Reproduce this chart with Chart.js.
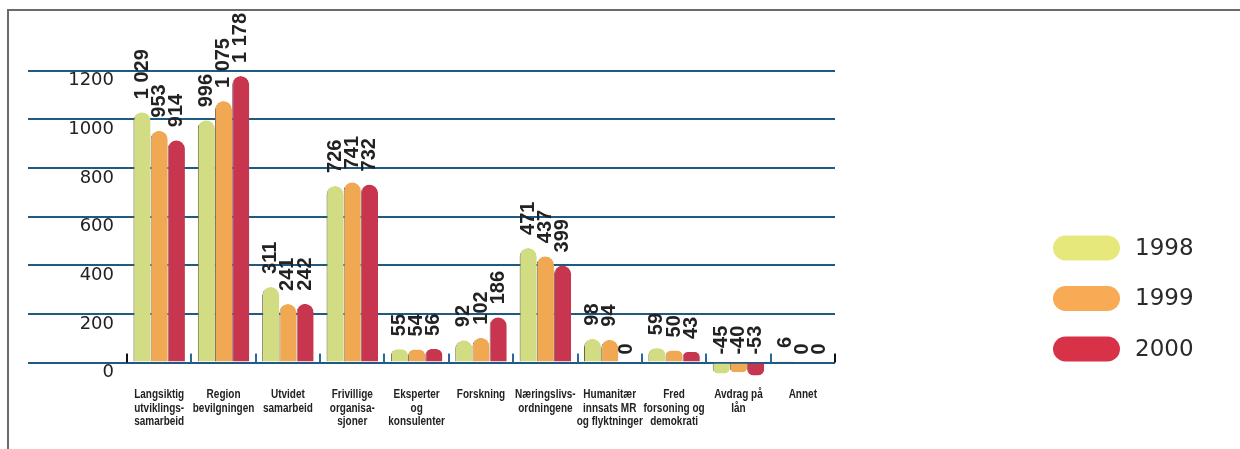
<!DOCTYPE html>
<html>
<head>
<meta charset="utf-8">
<script src="https://cdn.jsdelivr.net/npm/chart.js@4/dist/chart.umd.min.js"></script>
<style>
    body { margin: 0; background: #fff; }
    #wrap { position: relative; width: 1240px; height: 449px; overflow: hidden; }
    #frame { position: absolute; left: 7px; top: 9px; width: 1300px; height: 500px;
             border-top: 2px solid #6a6a6a; border-left: 2px solid #6a6a6a; }
    #chart-canvas { position: absolute; left: 0; top: 0; }
</style>
</head>
<body>
<div id="wrap">
    <div id="frame"></div>
    <canvas id="chart-canvas" width="1240" height="449"></canvas>
</div>
<script>
const categories = [
    ['Langsiktig', 'utviklings-', 'samarbeid'],
    ['Region', 'bevilgningen'],
    ['Utvidet', 'samarbeid'],
    ['Frivillige', 'organisa-', 'sjoner'],
    ['Eksperter', 'og', 'konsulenter'],
    ['Forskning'],
    ['Næringslivs-', 'ordningene'],
    ['Humanitær', 'innsats MR', 'og flyktninger'],
    ['Fred', 'forsoning og', 'demokrati'],
    ['Avdrag på', 'lån'],
    ['Annet']
];

const years = ['1998', '1999', '2000'];

const values1998 = [1029, 996, 311, 726, 55, 92, 471, 98, 59, -45, 6];
const values1999 = [953, 1075, 241, 741, 54, 102, 437, 94, 50, -40, 0];
const values2000 = [914, 1178, 242, 732, 56, 186, 399, 0, 43, -53, 0];

const yTicks = [0, 200, 400, 600, 800, 1000, 1200];

const barColors = ['#d2dc82', '#f0a852', '#c8354f'];
const edgeColors = ['#66683f', '#7d6e60', '#8c6a72'];
const legendColors = ['#e6e87c', '#f8aa55', '#d83248'];
const gridBlue = '#1f5a85';

// "1 029" style numbers
function formatValue(v) {
    return String(v).replace(/\B(?=(\d{3})+(?!\d))/g, ' ');
}

const extras = {
    id: 'extras',
    afterDraw(c) {
        const ctx = c.ctx;
        const x = c.scales.x;
        const y = c.scales.y;
        const zero = y.getPixelForValue(0);

        // small marks between the categories on the zero line
        const half = (x.getPixelForValue(1) - x.getPixelForValue(0)) / 2;
        ctx.save();
        for (let i = 0; i <= categories.length; i++) {
            const px = Math.round(x.getPixelForValue(i) - half);
            const edge = i === 0 || i === categories.length;
            ctx.fillStyle = edge ? '#111' : '#2a6a96';
            ctx.fillRect(px - 1, zero - 9, 2, 9);
        }
        ctx.restore();

        // category names, condensed bold
        ctx.save();
        ctx.fillStyle = '#222';
        ctx.font = 'bold 12.5px "Liberation Sans", Arial, sans-serif';
        ctx.textAlign = 'center';
        ctx.textBaseline = 'middle';
        categories.forEach(function(lines, i) {
            const cx = x.getPixelForValue(i);
            lines.forEach(function(line, li) {
                ctx.save();
                ctx.translate(cx, x.top + 12.5 + li * 13.7);
                ctx.scale(0.8, 1);
                ctx.fillText(line, 0, 0);
                ctx.restore();
            });
        });
        ctx.restore();

        // rotated value labels
        ctx.save();
        ctx.fillStyle = '#222';
        ctx.font = 'bold 20px "Liberation Sans", Arial, sans-serif';
        ctx.textAlign = 'left';
        ctx.textBaseline = 'middle';
        c.data.datasets.forEach(function(ds, di) {
            const meta = c.getDatasetMeta(di);
            meta.data.forEach(function(bar, i) {
                const v = ds.data[i];
                const py = y.getPixelForValue(Math.max(v, 0)) - (v > 0 ? 13 : 8);
                ctx.save();
                ctx.translate(bar.x, py);
                ctx.rotate(-Math.PI / 2);
                ctx.fillText(formatValue(v), 0, 0);
                ctx.restore();
            });
        });
        ctx.restore();

        // legend with pill swatches
        ctx.save();
        ctx.font = '23px "DejaVu Sans", sans-serif';
        ctx.textBaseline = 'middle';
        ctx.textAlign = 'left';
        c.data.datasets.forEach(function(ds, di) {
            const cy = 248 + di * 50.5;
            ctx.fillStyle = legendColors[di];
            ctx.beginPath();
            ctx.roundRect(1053, cy - 12.5, 67, 25, 12.5);
            ctx.fill();
            ctx.fillStyle = '#2a2a2a';
            ctx.fillText(ds.label, 1135, cy + 1);
        });
        ctx.restore();
    }
};

function setupChart() {
    const canvas = document.getElementById('chart-canvas').getContext('2d');
    const series = [values1998, values1999, values2000];

    new Chart(canvas, {
        type: 'bar',
        data: {
            labels: categories,
            datasets: series.map(function(vals, i) {
                return {
                    label: years[i],
                    data: vals,
                    backgroundColor: barColors[i],
                    borderColor: edgeColors[i],
                    borderWidth: { left: 1, right: 0, top: 0, bottom: 0 },
                    borderSkipped: 'start',
                    borderRadius: 9,
                    categoryPercentage: 0.8,
                    barPercentage: 1.0
                };
            })
        },
        options: {
            responsive: false,
            animation: false,
            layout: { padding: { left: 28, right: 405, top: 22, bottom: 0 } },
            plugins: {
                legend: { display: false },
                tooltip: { enabled: false }
            },
            scales: {
                x: {
                    grid: { display: false },
                    border: { display: false },
                    ticks: { display: false },
                    afterFit(scale) { scale.height = 67; }
                },
                y: {
                    min: -80,
                    max: 1400,
                    z: 1,
                    border: { display: false },
                    grid: {
                        color: gridBlue,
                        lineWidth: 2,
                        drawTicks: true,
                        tickLength: 99
                    },
                    ticks: {
                        color: '#222',
                        padding: -86,
                        labelOffset: 10,
                        font: { family: '"DejaVu Sans", sans-serif', size: 18 },
                        callback: function(v) { return String(v); }
                    },
                    afterBuildTicks(scale) {
                        scale.ticks = yTicks.map(function(v) { return { value: v }; });
                    },
                    afterFit(scale) { scale.width = 99; }
                }
            }
        },
        plugins: [extras]
    });
}

setupChart();
</script>
</body>
</html>
